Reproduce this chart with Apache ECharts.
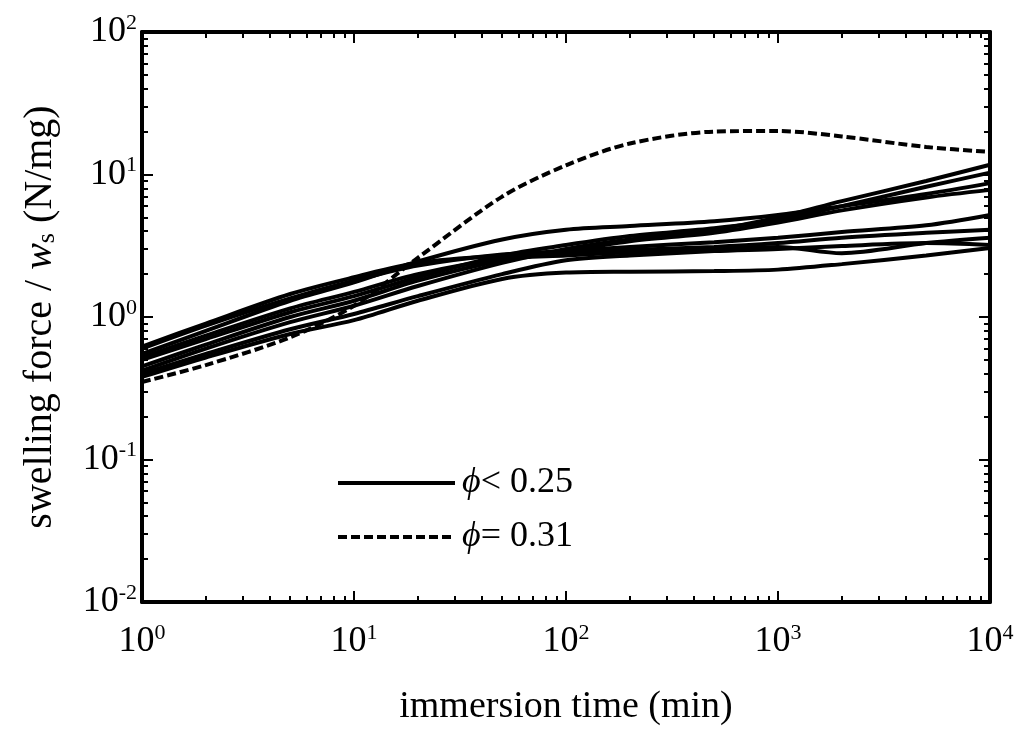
<!DOCTYPE html>
<html>
<head>
<meta charset="utf-8">
<title>swelling force vs immersion time</title>
<script src="https://cdn.jsdelivr.net/npm/echarts@6/dist/echarts.min.js"></script>
<style>
  html, body { margin: 0; padding: 0; background: #fff; }
  #chart { width: 1020px; height: 734px; }
</style>
</head>
<body>
<div id="chart"></div>
<script>
// immersion time (min) - shared sampling for every curve
const times = [1, 2, 5, 10, 20, 50, 100, 200, 500, 1000, 2000, 5000, 10000];

// swelling force / ws (N/mg), samples with phi < 0.25 (solid)
const solidA = [0.55, 0.80, 1.30, 1.75, 2.45, 3.50, 4.10, 4.35, 4.70, 5.20, 6.00, 7.30, 8.70];
const solidB = [0.42, 0.60, 0.92, 1.20, 1.65, 2.40, 3.00, 3.50, 4.10, 5.00, 6.50, 9.00, 11.7];
const solidC = [0.50, 0.70, 1.08, 1.40, 1.90, 2.70, 3.20, 3.70, 4.20, 4.80, 6.00, 8.20, 10.3];
const solidD = [0.45, 0.64, 1.00, 1.30, 1.80, 2.50, 2.90, 3.40, 3.90, 4.60, 5.60, 6.90, 7.80];
const solidE = [0.60, 0.87, 1.35, 1.80, 2.30, 2.75, 2.90, 3.10, 3.35, 3.60, 3.95, 4.40, 5.20];
const solidF = [0.62, 0.90, 1.45, 1.90, 2.40, 2.70, 2.80, 2.95, 3.10, 3.30, 3.60, 3.90, 4.10];
const solidG = [0.52, 0.74, 1.15, 1.50, 2.00, 2.55, 2.70, 2.85, 3.00, 3.10, 2.80, 3.30, 3.60];
const solidH = [0.40, 0.55, 0.82, 1.05, 1.40, 2.00, 2.50, 2.70, 2.90, 3.00, 3.15, 3.30, 3.20];
const solidI = [0.38, 0.52, 0.76, 0.95, 1.30, 1.85, 2.05, 2.08, 2.10, 2.15, 2.35, 2.70, 3.05];

// sample with phi = 0.31 (dashed)
const dashed31 = [0.35, 0.46, 0.72, 1.20, 2.60, 7.00, 11.6, 16.5, 20.0, 20.2, 18.5, 15.6, 14.4];

const solidCurves = [solidA, solidB, solidC, solidD, solidE, solidF, solidG, solidH, solidI];

// axis decades
const xMajor = [1, 10, 100, 1000, 10000];
const yMajor = [0.01, 0.1, 1, 10, 100];
const minorSteps = [2, 3, 4, 5, 6, 7, 8, 9];

const NAME_SOLID = 'phi<0.25';
const NAME_DASHED = 'phi=0.31';

const SERIF = '"Liberation Serif", "Times New Roman", "DejaVu Serif", serif';
const DASH = [9, 4];

const minorOf = majors => majors.slice(0, -1).flatMap(m => minorSteps.map(k => m * k));

// 10^n label as rich text
const powLabel = v => '{b|10}{s|' + Math.round(Math.log10(v)) + '}';
const powRich = {
    b: { fontFamily: SERIF, fontSize: 36, color: '#000' },
    s: { fontFamily: SERIF, fontSize: 22, color: '#000', padding: [0, 0, 18, 0] }
};

// one log axis; each frame side gets a major one (with line) and a minor one
function logAxis(pos, min, max, ticks, tickLen, showLine, label) {
    return {
        type: 'log',
        logBase: 10,
        position: pos,
        min: min,
        max: max,
        silent: true,
        axisLine: showLine
            ? { show: true, onZero: false, lineStyle: { color: '#000', width: 4 } }
            : { show: false, onZero: false },
        axisTick: {
            show: true,
            inside: true,
            length: tickLen,
            customValues: ticks,
            lineStyle: { color: '#000', width: 2 }
        },
        axisLabel: label || { show: false },
        splitLine: { show: false }
    };
}

const xLabel = { show: true, customValues: xMajor, formatter: powLabel, margin: 20, rich: powRich };
const yLabel = { show: true, customValues: yMajor, formatter: powLabel, margin: 5, rich: powRich };

const xAxes = [
    logAxis('bottom', 1, 10000, xMajor, 11, true, xLabel),
    logAxis('bottom', 1, 10000, minorOf(xMajor), 6, false),
    logAxis('top', 1, 10000, xMajor, 11, true),
    logAxis('top', 1, 10000, minorOf(xMajor), 6, false)
];
Object.assign(xAxes[0], {
    name: 'immersion time (min)',
    nameLocation: 'middle',
    nameGap: 86,
    nameTextStyle: { fontFamily: SERIF, fontSize: 38, color: '#000' }
});

const yAxes = [
    logAxis('left', 0.01, 100, yMajor, 11, true, yLabel),
    logAxis('left', 0.01, 100, minorOf(yMajor), 6, false),
    logAxis('right', 0.01, 100, yMajor, 11, true),
    logAxis('right', 0.01, 100, minorOf(yMajor), 6, false)
];
Object.assign(yAxes[0], {
    name: '{n|swelling force / }{i|w}{sub|s}{n| (N/mg)}',
    nameLocation: 'middle',
    nameRotate: 90,
    nameGap: 82,
    nameTextStyle: {
        fontFamily: SERIF,
        fontSize: 40,
        color: '#000',
        rich: {
            n: { fontFamily: SERIF, fontSize: 40, color: '#000' },
            i: { fontFamily: SERIF, fontSize: 40, fontStyle: 'italic', color: '#000' },
            sub: { fontFamily: SERIF, fontSize: 26, color: '#000', padding: [14, 0, 0, 0] }
        }
    }
});

const toPoints = vals => times.map((t, i) => [t, vals[i]]);

const series = solidCurves.map(vals => ({
    name: NAME_SOLID,
    type: 'line',
    data: toPoints(vals),
    smooth: 0.3,
    symbol: 'none',
    showSymbol: false,
    color: '#000',
    lineStyle: { color: '#000', width: 4 }
}));
series.push({
    name: NAME_DASHED,
    type: 'line',
    data: toPoints(dashed31),
    smooth: 0.3,
    symbol: 'none',
    showSymbol: false,
    color: '#000',
    lineStyle: { color: '#000', width: 4, type: DASH }
});

const legendText = {
    [NAME_SOLID]: '{p|ϕ}{t|< 0.25}',
    [NAME_DASHED]: '{p|ϕ}{t|= 0.31}'
};

const option = {
    backgroundColor: '#fff',
    animation: false,
    grid: { left: 142, right: 30, top: 32, bottom: 132, outerBoundsMode: 'none' },
    xAxis: xAxes,
    yAxis: yAxes,
    legend: {
        orient: 'vertical',
        left: 331,
        top: 460,
        itemWidth: 117,
        itemHeight: 14,
        itemGap: 18,
        selectedMode: false,
        data: [{ name: NAME_SOLID }, { name: NAME_DASHED }],
        formatter: name => legendText[name],
        itemStyle: { opacity: 0, borderWidth: 0 },
        lineStyle: { width: 4 },
        textStyle: {
            fontFamily: SERIF,
            fontSize: 36,
            color: '#000',
            rich: {
                p: { fontFamily: SERIF, fontSize: 36, fontStyle: 'italic', color: '#000', padding: [0, 0, 0, 2] },
                t: { fontFamily: SERIF, fontSize: 36, color: '#000' }
            }
        }
    },
    series: series
};

const chart = echarts.init(document.getElementById('chart'), null, { renderer: 'canvas' });
chart.setOption(option);
</script>
</body>
</html>
